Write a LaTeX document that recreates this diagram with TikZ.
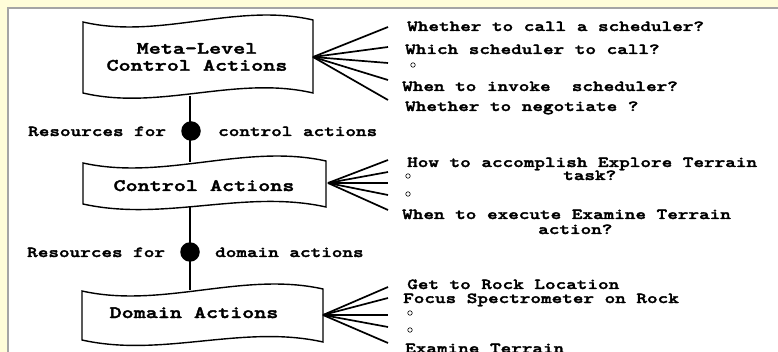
\documentclass[tikz,border=0pt]{standalone}
\usepackage{fontspec}
\newfontfamily\courbold[FakeStretch=1.32, FakeBold=2.2]{lmmonolt10-bold.otf}
\definecolor{cream}{RGB}{255,253,217}
\definecolor{frame}{RGB}{165,165,165}
% punched-tape outline: left x, right x, top y (left,right), bottom y (left,right)
\newcommand{\tapepath}[6]{%
  \draw[tape] (#1,#3) .. controls ({#1+(#2-#1)/3},#3+18) and ({#1+2*(#2-#1)/3},#4-18) .. (#2,#4)
    -- (#2,#6) .. controls ({#1+2*(#2-#1)/3},#6-18) and ({#1+(#2-#1)/3},#5+18) .. (#1,#5) -- cycle;}
\tikzset{
  lbl/.style={font=\fontsize{15.3}{17}\selectfont\courbold, anchor=base west, inner sep=0pt},
  boxtxt/.style={font=\fontsize{17.4}{17}\selectfont\courbold, align=center, inner sep=0pt},
  tape/.style={draw, line width=1.4pt, fill=white},
  fan/.style={line width=1.7pt},
  link/.style={line width=1.4pt},
  res/.style={circle, fill=black, minimum size=19.5pt, inner sep=0pt},
  hollow/.style={circle, draw, line width=0.6pt, minimum size=4.5pt, inner sep=0pt},
}
\begin{document}
\begin{tikzpicture}[x=1pt, y=-1pt]
  \useasboundingbox (0,0) rectangle (778,352);
  \clip (0,0) rectangle (778,352);
  % page background and panel
  \fill[cream] (0,0) rectangle (778,352);
  \fill[white] (8,8) rectangle (778,352);
  \draw[frame, line width=1.2pt] (8,352) -- (8,8) -- (778,8);

  % vertical links between the levels
  \coordinate (b1) at (190,96);
  \coordinate (t2) at (190,162);
  \coordinate (b2) at (190,206);
  \coordinate (t3) at (190,290);
  \draw[link] (b1) -- (t2);
  \draw[link] (b2) -- (t3);

  % the three action levels
  \tapepath{83}{313}{22}{20}{93}{93}
  \tapepath{83}{326}{163}{161}{204}{207}
  \tapepath{82}{323}{291}{289}{340}{342}

  \node[boxtxt] (meta) at (197,57) {Meta-Level\\Control Actions};
  \node[boxtxt, anchor=base] (ctrl) at (204,191) {Control Actions};
  \node[boxtxt, anchor=base] (dom) at (194,318) {Domain Actions};

  % resource dots with their labels
  \node[res] (r1) at (191,131) {};
  \node[res] (r2) at (190,252) {};
  \node[lbl] (r1a) at (28,136) {Resources for};
  \node[lbl] (r1b) at (218,136) {control actions};
  \node[lbl] (r2a) at (27,257) {Resources for};
  \node[lbl] (r2b) at (215,257) {domain actions};

  % fan of meta-level questions
  \coordinate (f1) at (313,57);
  \foreach \y [count=\i] in {27,47,63,80,100} {
    \coordinate (f1e\i) at (388,\y);
    \draw[fan] (f1) -- (f1e\i);
  }
  \node[lbl] (q1) at (407,31) {Whether to call a scheduler?};
  \node[lbl] (q2) at (405,54) {Which scheduler to call?};
  \node[hollow] (q3) at (413,65) {};
  \node[lbl] (q4) at (402,91) {When to invoke\ \ scheduler?};
  \node[lbl] (q5) at (405,111) {Whether to negotiate ?};

  % fan of control questions
  \coordinate (f2) at (328,183);
  \foreach \y [count=\i] in {160,172,183,195,210} {
    \coordinate (f2e\i) at (388,\y);
    \draw[fan] (f2) -- (f2e\i);
  }
  \node[lbl] (c1) at (407,167) {How to accomplish Explore Terrain};
  \node[lbl] (c1b) at (563,180) {task?};
  \node[hollow] (c2) at (408,176) {};
  \node[hollow] (c3) at (408,194) {};
  \node[lbl] (c4) at (402,219) {When to execute Examine Terrain};
  \node[lbl] (c4b) at (538,234) {action?};

  % fan of domain actions
  \coordinate (f3) at (323,315);
  \foreach \y [count=\i] in {287,298,315,327,343} {
    \coordinate (f3e\i) at (388,\y);
    \draw[fan] (f3) -- (f3e\i);
  }
  \node[lbl] (d1) at (407,289) {Get to Rock Location};
  \node[lbl] (d2) at (403,303) {Focus Spectrometer on Rock};
  \node[hollow] (d3) at (410,313) {};
  \node[hollow] (d4) at (410,330) {};
  \node[lbl] (d5) at (405,353) {Examine Terrain};
\end{tikzpicture}
\end{document}
